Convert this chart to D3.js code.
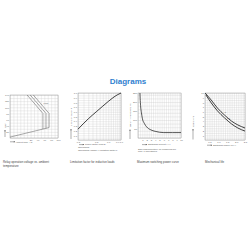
<!DOCTYPE html>
<html>
<head>
<meta charset="utf-8">
<script src="https://cdn.jsdelivr.net/npm/d3@7"></script>
<style>
  html, body { margin: 0; padding: 0; background: #fff; }
  svg { display: block; font-family: "Liberation Sans", Arial, sans-serif; }
  .grid line { stroke: #c4c4c4; stroke-width: 0.3; }
  .grid path { display: none; }
  .axis path, .axis line { display: none; }
  .axis text { fill: #666; font-size: 2.4px; }
  .frame { fill: none; stroke: #888; stroke-width: 0.4; }
  .note { fill: #555; font-size: 2.3px; }
  .caption { fill: #444; font-size: 2.9px; }
  .title { fill: #2f7fd0; font-size: 8px; font-weight: 600; }
</style>
</head>
<body>
<svg id="chart" width="250" height="250"></svg>
<script>
// region data
// relay operation voltage (%) vs ambient temperature (°C)
const tempTicks = [20, 40, 60, 80, 100];
const voltTicks = [20, 40, 60, 80, 100, 120, 140];
const maxVoltA = [[10, 140], [56, 80], [56, 29]];
const maxVoltB = [[19, 140], [65, 80], [65, 31]];
const maxVoltC = [[28, 140], [74, 80], [74, 34]];
const minVolt = [[-40, 3], [74, 34]];

// limitation factor F vs power factor cos phi
const cosPhi = [0.3, 0.4, 0.5, 0.6, 0.7, 0.8, 0.9, 1.0];
const factorF = [0.23, 0.45, 0.6, 0.72, 0.82, 0.9, 0.96, 1.0];
const cosTicks = [0.3, 0.5, 0.7, 0.9, 1];
const factorTicks = [0.1, 0.2, 0.3, 0.4, 0.5, 0.6, 0.7, 0.8, 0.9, 1.0];

// max switching power: voltage (V) vs current (A)
const switchCurrent = [0.45, 0.5, 0.6, 0.8, 1, 1.5, 2, 3, 4, 5, 6, 8, 10];
const switchVoltage = [250, 220, 180, 140, 110, 80, 62, 45, 37, 32, 30, 30, 30];
const currentTicks = [1, 2, 3, 4, 5, 6, 7, 8, 9, 10];
const voltageTicks = [50, 100, 150, 200, 250];

// life: operations vs switching power
const powerUpper = [0.26, 0.6, 0.95, 1.35, 1.75, 2.1, 2.5];
const opsUpper = [10, 8.5, 6.8, 5.3, 4.0, 3.2, 2.55];
const powerLower = [0.3, 0.6, 0.95, 1.35, 1.75, 2.1, 2.5];
const opsLower = [9.6, 7.9, 6.2, 4.7, 3.4, 2.55, 1.9];
const powerTicks = [0.5, 1.0, 1.5, 2.0, 2.5];
const opsTicks = [1, 2, 3, 4, 5, 6, 7, 8, 9, 10];
// endregion

const svg = d3.select('#chart');

svg.append('text')
  .attr('class', 'title')
  .attr('x', 128)
  .attr('y', 84)
  .attr('text-anchor', 'middle')
  .text('Diagrams');

function panel(x, y, xGrid, yGrid) {
  const g = svg.append('g');
  const [x0, x1] = x.range();
  const [y0, y1] = y.range();
  g.append('g').attr('class', 'grid')
    .attr('transform', `translate(0,${y0})`)
    .call(d3.axisBottom(x).tickValues(xGrid).tickSize(-(y0 - y1)).tickFormat(''));
  g.append('g').attr('class', 'grid')
    .attr('transform', `translate(${x0},0)`)
    .call(d3.axisLeft(y).tickValues(yGrid).tickSize(-(x1 - x0)).tickFormat(''));
  g.append('rect').attr('class', 'frame')
    .attr('x', x0).attr('y', y1)
    .attr('width', x1 - x0).attr('height', y0 - y1);
  return g;
}

function labels(g, x, y, xTicks, yTicks, xFmt, yFmt) {
  g.append('g').attr('class', 'axis')
    .attr('transform', `translate(0,${y.range()[0]})`)
    .call(d3.axisBottom(x).tickValues(xTicks).tickSize(0).tickPadding(1).tickFormat(xFmt));
  g.append('g').attr('class', 'axis')
    .attr('transform', `translate(${x.range()[0]},0)`)
    .call(d3.axisLeft(y).tickValues(yTicks).tickSize(0).tickPadding(1).tickFormat(yFmt));
}

function arrow(g, xa, ya, xb, yb) {
  g.append('line')
    .attr('x1', xa).attr('y1', ya).attr('x2', xb).attr('y2', yb)
    .attr('stroke', '#333').attr('stroke-width', 0.4);
  const a = Math.atan2(yb - ya, xb - xa);
  const s = 1.2;
  const p = [
    [xb, yb],
    [xb - s * Math.cos(a) + s * 0.5 * Math.sin(a), yb - s * Math.sin(a) - s * 0.5 * Math.cos(a)],
    [xb - s * Math.cos(a) - s * 0.5 * Math.sin(a), yb - s * Math.sin(a) + s * 0.5 * Math.cos(a)]
  ];
  g.append('path').attr('d', 'M' + p.join('L') + 'Z').attr('fill', '#333');
}

function note(g, x, y, txt, rotate) {
  const t = g.append('text').attr('class', 'note').text(txt);
  if (rotate) {
    t.attr('transform', `translate(${x},${y}) rotate(-90)`);
  } else {
    t.attr('x', x).attr('y', y);
  }
  return t;
}

function caption(x, y, lines) {
  const t = svg.append('text').attr('class', 'caption').attr('x', x).attr('y', y);
  lines.forEach((l, i) => t.append('tspan').attr('x', x).attr('dy', i ? 3.6 : 0).text(l));
}

// region chart 1
{
  const x = d3.scaleLinear().domain([-40, 100]).range([10, 58]);
  const y = d3.scaleLinear().domain([0, 140]).range([138, 95]);
  const g = panel(x, y, d3.range(-40, 101, 10), d3.range(0, 141, 10));
  labels(g, x, y, tempTicks, voltTicks, d3.format('d'), d3.format('d'));
  const line = d3.line().x(d => x(d[0])).y(d => y(d[1]));
  [maxVoltA, maxVoltB, maxVoltC, minVolt].forEach(d => {
    g.append('path').attr('d', line(d))
      .attr('fill', 'none').attr('stroke', '#444').attr('stroke-width', 0.45);
  });
  note(g, x(58), y(112), 'Umax').style('font-size', '1.8px');
  note(g, 5.5, 128, 'U/Un', true);
  arrow(g, 5, 137, 5, 130);
  arrow(g, 10, 141.8, 15, 141.8);
  note(g, 15.5, 142.6, 'Ambient temp. (°C)').style('font-size', '2px');
  caption(3, 163, ['Relay operation voltage vs. ambient', 'temperature']);
}
// endregion

// region chart 2
{
  const x = d3.scaleLog().domain([0.3, 1]).range([78, 121]);
  const y = d3.scaleLinear().domain([0, 1]).range([140, 93]);
  const g = panel(x, y, d3.range(0.3, 1.001, 0.05), d3.range(0, 1.001, 0.05));
  labels(g, x, y, cosTicks, factorTicks, d3.format('.1f'), d3.format('.1f'));
  const line = d3.line().curve(d3.curveMonotoneX).x((d, i) => x(cosPhi[i])).y(d => y(d));
  g.append('path').attr('d', line(factorF))
    .attr('fill', 'none').attr('stroke', '#111').attr('stroke-width', 0.8);
  note(g, 71.5, 126, 'Limitation factor F', true);
  arrow(g, 71, 139, 71, 129);
  arrow(g, 79, 144.6, 84, 144.6);
  note(g, 85, 145.4, 'Power factor (cos φ)');
  note(g, 78, 148.4, 'Operations =');
  note(g, 78, 151.4, 'Operations (ohmic) x limitation factor F');
  caption(70, 163, ['Limitation factor for inductive loads']);
}
// endregion

// region chart 3
{
  const x = d3.scaleLinear().domain([0, 10]).range([138, 181]);
  const y = d3.scaleLinear().domain([0, 250]).range([138, 93]);
  const g = panel(x, y, d3.range(0, 10.01, 0.5), d3.range(0, 251, 20));
  labels(g, x, y, currentTicks, voltageTicks, d3.format('d'), d3.format('d'));
  const line = d3.line().curve(d3.curveMonotoneX).x((d, i) => x(switchCurrent[i])).y(d => y(d));
  g.append('path').attr('d', line(switchVoltage))
    .attr('fill', 'none').attr('stroke', '#111').attr('stroke-width', 0.7);
  note(g, 130.5, 127, 'Switching voltage U (V)', true);
  arrow(g, 130, 139, 130, 129.5);
  arrow(g, 142, 144.6, 147, 144.6);
  note(g, 148, 145.4, 'Switching current I (A)');
  note(g, 138, 149.6, 'Safe disconnection, no remaining arc,');
  note(g, 138, 152.4, 'max. 1 operation/s.');
  caption(137, 163, ['Maximum switching power curve']);
}
// endregion

// region chart 4
{
  const x = d3.scaleLinear().domain([0.25, 2.5]).range([205, 245]);
  const y = d3.scaleLinear().domain([0, 10]).range([140, 93]);
  const g = panel(x, y, d3.range(0.25, 2.501, 0.125), d3.range(0, 10.01, 0.5));
  labels(g, x, y, powerTicks, opsTicks, d3.format('.1f'), d3.format('d'));
  const upper = d3.line().curve(d3.curveMonotoneX).x((d, i) => x(powerUpper[i])).y(d => y(d));
  const lower = d3.line().curve(d3.curveMonotoneX).x((d, i) => x(powerLower[i])).y(d => y(d));
  g.append('path').attr('d', upper(opsUpper))
    .attr('fill', 'none').attr('stroke', '#111').attr('stroke-width', 0.8);
  g.append('path').attr('d', lower(opsLower))
    .attr('fill', 'none').attr('stroke', '#111').attr('stroke-width', 0.8);
  note(g, x(1.3), y(5.8), 'AC').style('font-size', '1.8px');
  note(g, x(1.5), y(4.4), 'DC').style('font-size', '1.8px');
  note(g, 193.5, 127, 'Operations', true);
  arrow(g, 193, 139.5, 193, 129);
  arrow(g, 207, 145.2, 212, 145.2);
  note(g, 213, 146, 'Switching power (kVA)');
  caption(205, 163, ['Mechanical life']);
}
// endregion
</script>
</body>
</html>
